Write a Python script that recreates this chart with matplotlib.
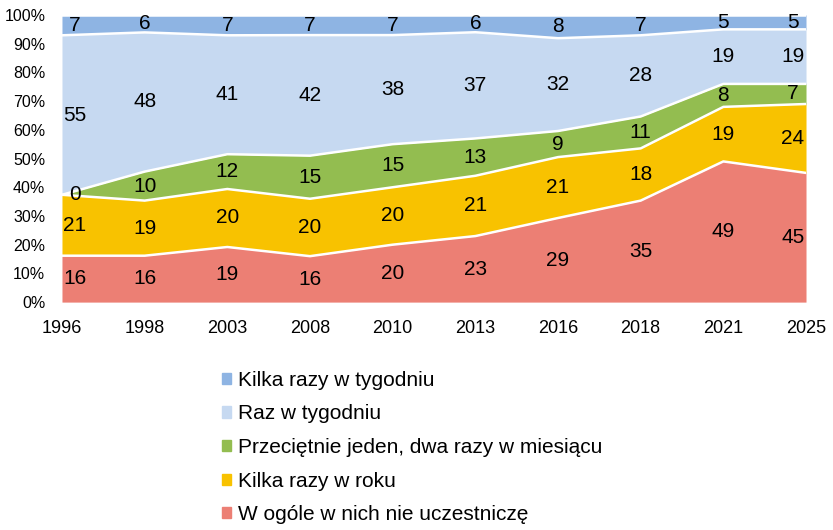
import matplotlib
matplotlib.use("Agg")
import matplotlib.pyplot as plt
import numpy as np
from matplotlib.patches import Patch
from matplotlib.ticker import FuncFormatter

plt.rcParams['font.family'] = ['Liberation Sans', 'DejaVu Sans']

# ------------ data --------------------------------
years = ['1996', '1998', '2003', '2008', '2010', '2013', '2016', '2018', '2021', '2025']
nie_uczestnicze = [16, 16, 19, 16, 20, 23, 29, 35, 49, 45]
kilka_w_roku = [21, 19, 20, 20, 20, 21, 21, 18, 19, 24]
raz_dwa_w_miesiacu = [0, 10, 12, 15, 15, 13, 9, 11, 8, 7]
raz_w_tygodniu = [55, 48, 41, 42, 38, 37, 32, 28, 19, 19]
kilka_w_tygodniu = [7, 6, 7, 7, 7, 6, 8, 7, 5, 5]

names = ['W ogóle w nich nie uczestniczę', 'Kilka razy w roku',
         'Przeciętnie jeden, dwa razy w miesiącu', 'Raz w tygodniu',
         'Kilka razy w tygodniu']
colors = ['#EC7F74', '#F8C200', '#93BD50', '#C6D9F1', '#8EB4E3']

series = np.array([nie_uczestnicze, kilka_w_roku, raz_dwa_w_miesiacu,
                   raz_w_tygodniu, kilka_w_tygodniu], dtype=float)
shares = series / series.sum(axis=0) * 100  # 100% stacked
x = np.arange(len(years))

fig = plt.figure(figsize=(8.33, 5.30), dpi=100)
ax = fig.add_axes([0.0744, 0.430, 0.8932, 0.5417])

bottom = np.zeros(len(years))
for i in range(len(series)):
    top = bottom + shares[i]
    ax.fill_between(x, bottom, top, color=colors[i], linewidth=0)
    ax.plot(x, top, color='white', linewidth=1.8)
    # data labels in the middle of each band
    for j in range(len(years)):
        mid = (bottom[j] + top[j]) / 2
        dx = 0
        if j == 0:
            dx = 13
        elif j == len(years) - 1:
            dx = -13
        ax.annotate(str(int(series[i][j])), (x[j], mid), xytext=(dx, 0),
                    textcoords='offset pixels', ha='center', va='center',
                    fontsize=15, color='#000000')
    bottom = top

ax.set_xlim(0, len(years) - 1)
ax.set_ylim(0, 100)
ax.set_xticks(x)
ax.set_xticklabels(years)
ax.set_yticks(np.arange(0, 101, 10))
ax.yaxis.set_major_formatter(FuncFormatter(lambda v, p: '{:.0f}%'.format(v)))
ax.tick_params(axis='x', length=0, pad=13, labelsize=13)
ax.tick_params(axis='y', length=0, pad=12, labelsize=11.5)
for s in ax.spines.values():
    s.set_visible(False)

handles = [Patch(color=colors[i], label=names[i]) for i in range(len(names) - 1, -1, -1)]
fig.legend(handles=handles, loc='upper left', bbox_to_anchor=(0.254, 0.320),
           frameon=False, fontsize=15, handlelength=0.45, handleheight=0.45,
           handletextpad=0.3, labelspacing=0.7, borderpad=0)

fig.savefig('out.png', dpi=100)
